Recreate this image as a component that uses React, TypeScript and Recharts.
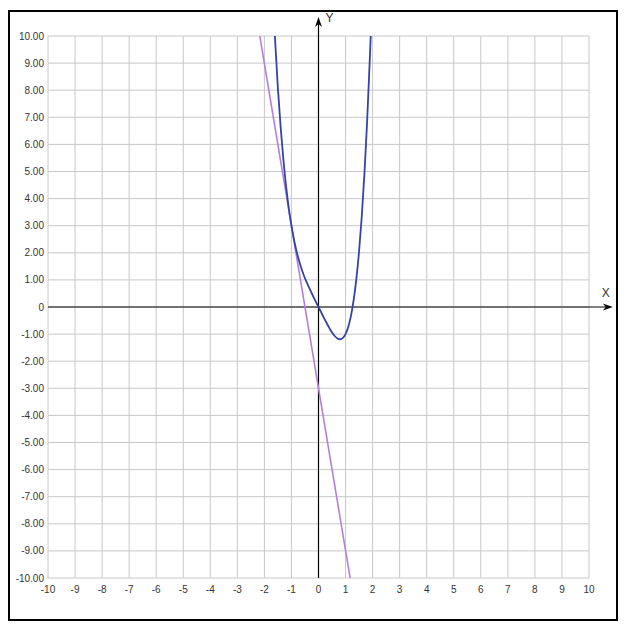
import React from "react";
import { LineChart, Line, XAxis, YAxis, CartesianGrid, ReferenceLine } from "recharts";

const xTicks = [-10, -9, -8, -7, -6, -5, -4, -3, -2, -1, 0, 1, 2, 3, 4, 5, 6, 7, 8, 9, 10];
const yTicks = [-10, -9, -8, -7, -6, -5, -4, -3, -2, -1, 0, 1, 2, 3, 4, 5, 6, 7, 8, 9, 10];

const curveX = [-1.613, -1.5, -1.4, -1.3, -1.2, -1.1, -1.0, -0.9, -0.8, -0.7, -0.6, -0.5, -0.4, -0.3, -0.2, -0.1, 0, 0.1, 0.2, 0.3, 0.4, 0.5, 0.6, 0.7, 0.8, 0.9, 1.0, 1.1, 1.2, 1.3, 1.4, 1.5, 1.6, 1.7, 1.8, 1.9, 1.93];
const curveY = [10, 8.06, 6.64, 5.46, 4.47, 3.66, 3.0, 2.46, 2.01, 1.64, 1.33, 1.06, 0.83, 0.61, 0.4, 0.2, 0, -0.2, -0.4, -0.59, -0.77, -0.94, -1.07, -1.16, -1.19, -1.14, -1.0, -0.74, -0.33, 0.26, 1.04, 2.06, 3.35, 4.95, 6.9, 9.23, 10];

const lineX = [-2.17, 1.17];
const lineY = [10, -10];

const curveData = curveX.map((x, i) => ({ x, y: curveY[i] }));
const tangentData = lineX.map((x, i) => ({ x, y: lineY[i] }));

const tickStyle = { fontFamily: "'Liberation Sans', Arial, sans-serif", fontSize: 10, fill: "#333" };

const YArrow = (p: any) => {
  const { x1, y1, x2, y2 } = p;
  return (
    <g>
      <line x1={x1} y1={y1} x2={x2} y2={y2 + 4} stroke="#000" strokeWidth={1.2} />
      <polygon points={`${x2},${y2} ${x2 - 3.5},${y2 + 10} ${x2},${y2 + 7} ${x2 + 3.5},${y2 + 10}`} fill="#000" />
      <text x={x2 + 11} y={y2 + 5} textAnchor="middle" style={{ ...tickStyle, fontSize: 12 }}>Y</text>
    </g>
  );
};

const XArrow = (p: any) => {
  const { x1, y1, x2, y2 } = p;
  return (
    <g>
      <line x1={x1} y1={y1} x2={x2 - 4} y2={y2} stroke="#000" strokeWidth={1.2} />
      <polygon points={`${x2},${y2} ${x2 - 10},${y2 - 3.5} ${x2 - 7},${y2} ${x2 - 10},${y2 + 3.5}`} fill="#000" />
      <text x={x2 - 7} y={y2 - 10} textAnchor="middle" style={{ ...tickStyle, fontSize: 12 }}>X</text>
    </g>
  );
};

const faintBoxes = [8, 48, 88, 128];

export default function App() {
  return (
    <div style={{ position: "relative", width: 624, height: 625 }}>
      <div
        style={{
          position: "absolute",
          left: 0,
          top: 2,
          width: 610,
          height: 611,
          border: "2px solid #000",
          boxSizing: "border-box",
        }}
      />
      {faintBoxes.map((t) => (
        <div
          key={t}
          style={{
            position: "absolute",
            left: 622,
            top: t,
            width: 6,
            height: 31,
            border: "1px solid #e4e4e4",
            borderRadius: 2,
            boxSizing: "border-box",
          }}
        />
      ))}
      <div style={{ position: "absolute", left: 0, top: 0 }}>
        <LineChart width={624} height={625} margin={{ top: 28, right: 43, bottom: 25, left: 0 }}>
          <CartesianGrid stroke="#c8c8c8" strokeWidth={1} />
          <XAxis
            type="number"
            dataKey="x"
            domain={[-10, 10]}
            ticks={xTicks}
            interval={0}
            axisLine={false}
            tickLine={false}
            tickSize={0}
            tickMargin={8}
            height={30}
            tick={tickStyle}
            allowDataOverflow
          />
          <YAxis
            type="number"
            dataKey="y"
            domain={[-10, 10]}
            ticks={yTicks}
            interval={0}
            axisLine={false}
            tickLine={false}
            tickSize={0}
            tickMargin={4}
            width={40}
            tick={tickStyle}
            tickFormatter={(v: number) => (v === 0 ? "0" : v.toFixed(2))}
            allowDataOverflow
          />
          <ReferenceLine
            segment={[{ x: 0, y: -10 }, { x: 0, y: 10.7 }]}
            ifOverflow="visible"
            shape={YArrow}
          />
          <ReferenceLine
            segment={[{ x: -10, y: 0 }, { x: 10.88, y: 0 }]}
            ifOverflow="visible"
            shape={XArrow}
          />
          <Line
            data={tangentData}
            dataKey="y"
            type="linear"
            stroke="#b57ee0"
            strokeWidth={1.6}
            dot={false}
            activeDot={false}
            isAnimationActive={false}
          />
          <Line
            data={curveData}
            dataKey="y"
            type="monotone"
            stroke="#3343a8"
            strokeWidth={1.8}
            dot={false}
            activeDot={false}
            isAnimationActive={false}
          />
        </LineChart>
      </div>
    </div>
  );
}
